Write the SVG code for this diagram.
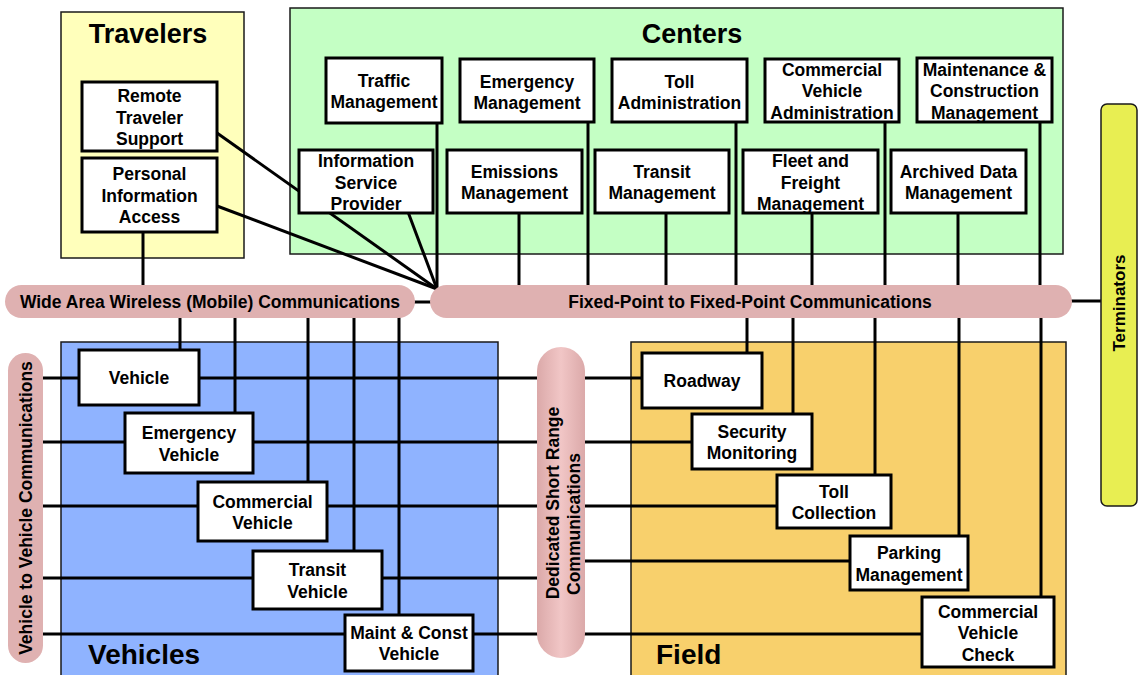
<svg xmlns="http://www.w3.org/2000/svg" width="1138" height="675" viewBox="0 0 1138 675">
<defs>
<style>
text{font-family:"Liberation Sans",Arial,sans-serif;font-weight:bold;font-size:17.5px;text-anchor:middle;fill:#000}
.title{font-size:27px}
.big{font-size:28px;text-anchor:start}
.grp{stroke:#1a1a1a;stroke-width:1.5}
.node rect{fill:#fff;stroke:#000;stroke-width:3}
#connectors line{stroke:#000;stroke-width:3;fill:none}
.pill{fill:#dfb1b1}
</style>
<linearGradient id="pinkV" x1="0" y1="0" x2="1" y2="0">
<stop offset="0" stop-color="#dba9a9"/><stop offset="0.5" stop-color="#f1c6c6"/><stop offset="1" stop-color="#dba9a9"/>
</linearGradient>
</defs>
<rect width="1138" height="675" fill="#fff"/>
<g id="travelers-group"><rect class="grp" x="61" y="12" width="183" height="246" fill="#ffffbb"/><text class="title" x="148" y="43">Travelers</text></g>
<g id="centers-group"><rect class="grp" x="290" y="8" width="773" height="246" fill="#c4ffc4"/><text class="title" x="692" y="43">Centers</text></g>
<g id="vehicles-group"><rect class="grp" x="61" y="342" width="437" height="340" fill="#8fb3ff"/></g>
<g id="field-group"><rect class="grp" x="631" y="342" width="435" height="340" fill="#f8d06c"/></g>
<g id="connectors">
<line x1="217" y1="133" x2="437" y2="289"/>
<line x1="217" y1="206" x2="437" y2="289"/>
<line x1="408" y1="212" x2="437" y2="289"/>
<line x1="437" y1="122" x2="437" y2="292"/>
<line x1="143" y1="232" x2="143" y2="292"/>
<line x1="519" y1="212" x2="519" y2="292"/>
<line x1="588" y1="121" x2="588" y2="292"/>
<line x1="666" y1="212" x2="666" y2="292"/>
<line x1="736" y1="121" x2="736" y2="292"/>
<line x1="812" y1="212" x2="812" y2="292"/>
<line x1="885" y1="121" x2="885" y2="292"/>
<line x1="958" y1="212" x2="958" y2="292"/>
<line x1="1040" y1="121" x2="1040" y2="292"/>
<line x1="405" y1="302" x2="440" y2="302"/>
<line x1="1060" y1="301" x2="1102" y2="301"/>
<line x1="180" y1="312" x2="180" y2="351"/>
<line x1="235" y1="312" x2="235" y2="414"/>
<line x1="308" y1="312" x2="308" y2="483"/>
<line x1="354" y1="312" x2="354" y2="552"/>
<line x1="399" y1="312" x2="399" y2="616"/>
<line x1="747" y1="312" x2="747" y2="354"/>
<line x1="793" y1="312" x2="793" y2="415"/>
<line x1="875" y1="312" x2="875" y2="476"/>
<line x1="959" y1="312" x2="959" y2="537"/>
<line x1="1041" y1="312" x2="1041" y2="598"/>
<line x1="38" y1="378" x2="545" y2="378"/>
<line x1="38" y1="442" x2="545" y2="442"/>
<line x1="38" y1="506" x2="545" y2="506"/>
<line x1="38" y1="578" x2="545" y2="578"/>
<line x1="38" y1="634" x2="545" y2="634"/>
<line x1="578" y1="378" x2="643" y2="378"/>
<line x1="578" y1="442" x2="693" y2="442"/>
<line x1="578" y1="506" x2="778" y2="506"/>
<line x1="578" y1="561" x2="851" y2="561"/>
<line x1="578" y1="634" x2="923" y2="634"/>
</g>
<g id="wide-area-wireless"><rect class="pill" x="5" y="285" width="410" height="33" rx="16.5"/><text x="210" y="308">Wide Area Wireless (Mobile) Communications</text></g>
<g id="fixed-point"><rect class="pill" x="430" y="285" width="642" height="33" rx="16.5"/><text x="750" y="308">Fixed-Point to Fixed-Point Communications</text></g>
<g id="v2v"><rect class="pill" x="8" y="353" width="35" height="310" rx="17.5"/><text transform="translate(31.5,508) rotate(-90)">Vehicle to Vehicle Communications</text></g>
<g id="dsrc"><rect x="537" y="347" width="48" height="311" rx="24" fill="url(#pinkV)"/><text transform="translate(559,503) rotate(-90)">Dedicated Short Range</text><text transform="translate(580,524) rotate(-90)">Communications</text></g>
<g id="terminators"><rect x="1101" y="104" width="36" height="402" rx="6" fill="#e8ee52" stroke="#1a1a1a" stroke-width="1.5"/><text transform="translate(1125,303) rotate(-90)" style="font-size:17px">Terminators</text></g>
<g id="remote-traveler-support" class="node"><rect x="82" y="82" width="135" height="69"/><text x="149.5" y="102">Remote</text><text x="149.5" y="123.5">Traveler</text><text x="149.5" y="145">Support</text></g>
<g id="personal-information-access" class="node"><rect x="82" y="158" width="135" height="74"/><text x="149.5" y="180">Personal</text><text x="149.5" y="201.5">Information</text><text x="149.5" y="223">Access</text></g>
<g id="traffic-management" class="node"><rect x="326" y="58" width="116" height="65"/><text x="384" y="87">Traffic</text><text x="384" y="108">Management</text></g>
<g id="information-service-provider" class="node"><rect x="299" y="150" width="134" height="63"/><text x="366" y="167">Information</text><text x="366" y="188.5">Service</text><text x="366" y="210">Provider</text></g>
<g id="emergency-management" class="node"><rect x="460" y="59" width="134" height="63"/><text x="527" y="88">Emergency</text><text x="527" y="109">Management</text></g>
<g id="emissions-management" class="node"><rect x="447" y="150" width="135" height="63"/><text x="514.5" y="178">Emissions</text><text x="514.5" y="199">Management</text></g>
<g id="toll-administration" class="node"><rect x="612" y="59" width="135" height="63"/><text x="679.5" y="88">Toll</text><text x="679.5" y="109">Administration</text></g>
<g id="transit-management" class="node"><rect x="595" y="150" width="134" height="63"/><text x="662" y="178">Transit</text><text x="662" y="199">Management</text></g>
<g id="commercial-vehicle-administration" class="node"><rect x="765" y="59" width="134" height="63"/><text x="832" y="76">Commercial</text><text x="832" y="97">Vehicle</text><text x="832" y="118.5">Administration</text></g>
<g id="maintenance-construction-management" class="node"><rect x="917" y="58" width="135" height="64"/><text x="984.5" y="76">Maintenance &amp;</text><text x="984.5" y="97">Construction</text><text x="984.5" y="118.5">Management</text></g>
<g id="fleet-freight-management" class="node"><rect x="743" y="150" width="135" height="63"/><text x="810.5" y="167">Fleet and</text><text x="810.5" y="188.5">Freight</text><text x="810.5" y="210">Management</text></g>
<g id="archived-data-management" class="node"><rect x="891" y="150" width="135" height="63"/><text x="958.5" y="178">Archived Data</text><text x="958.5" y="199">Management</text></g>
<g id="vehicle" class="node"><rect x="79" y="350" width="120" height="55"/><text x="139" y="384">Vehicle</text></g>
<g id="emergency-vehicle" class="node"><rect x="125" y="413" width="128" height="60"/><text x="189" y="439">Emergency</text><text x="189" y="460.5">Vehicle</text></g>
<g id="commercial-vehicle" class="node"><rect x="198" y="482" width="129" height="59"/><text x="262.5" y="507.5">Commercial</text><text x="262.5" y="529">Vehicle</text></g>
<g id="transit-vehicle" class="node"><rect x="253" y="551" width="129" height="58"/><text x="317.5" y="576">Transit</text><text x="317.5" y="597.5">Vehicle</text></g>
<g id="maint-const-vehicle" class="node"><rect x="345" y="615" width="128" height="56"/><text x="409" y="638.5">Maint &amp; Const</text><text x="409" y="660">Vehicle</text></g>
<g id="roadway" class="node"><rect x="642" y="353" width="120" height="55"/><text x="702" y="387">Roadway</text></g>
<g id="security-monitoring" class="node"><rect x="692" y="414" width="120" height="55"/><text x="752" y="437.5">Security</text><text x="752" y="459">Monitoring</text></g>
<g id="toll-collection" class="node"><rect x="777" y="475" width="114" height="53"/><text x="834" y="497.5">Toll</text><text x="834" y="519">Collection</text></g>
<g id="parking-management" class="node"><rect x="850" y="536" width="118" height="54"/><text x="909" y="559">Parking</text><text x="909" y="580.5">Management</text></g>
<g id="commercial-vehicle-check" class="node"><rect x="922" y="597" width="132" height="70"/><text x="988" y="617.5">Commercial</text><text x="988" y="639">Vehicle</text><text x="988" y="660.5">Check</text></g>
<text class="big" x="88" y="664">Vehicles</text>
<text class="big" x="656" y="664">Field</text>
</svg>
